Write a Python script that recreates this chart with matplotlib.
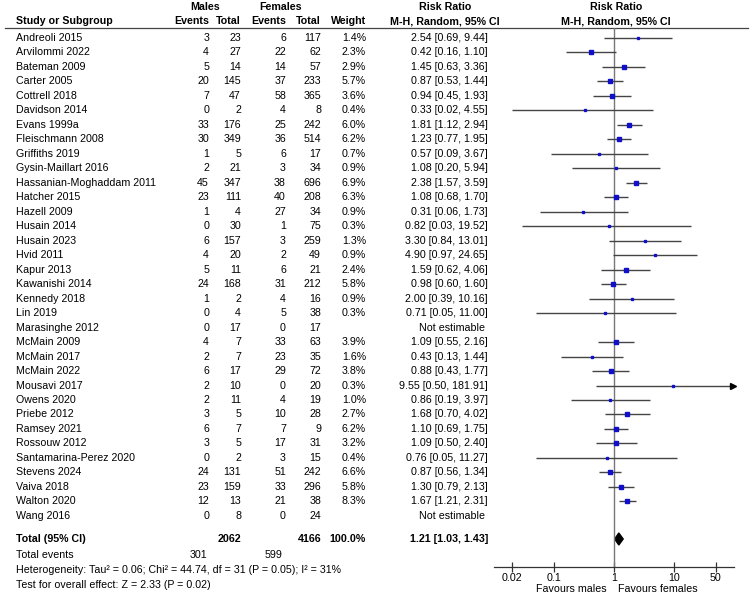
import matplotlib.pyplot as plt
import numpy as np
from matplotlib.patches import Polygon

plt.rcParams['font.family'] = ['Liberation Sans', 'DejaVu Sans']
plt.rcParams['font.size'] = 7.7

# study data
studies = ['Andreoli 2015', 'Arvilommi 2022', 'Bateman 2009', 'Carter 2005', 'Cottrell 2018',
           'Davidson 2014', 'Evans 1999a', 'Fleischmann 2008', 'Griffiths 2019',
           'Gysin-Maillart 2016', 'Hassanian-Moghaddam 2011', 'Hatcher 2015', 'Hazell 2009',
           'Husain 2014', 'Husain 2023', 'Hvid 2011', 'Kapur 2013', 'Kawanishi 2014',
           'Kennedy 2018', 'Lin 2019', 'Marasinghe 2012', 'McMain 2009', 'McMain 2017',
           'McMain 2022', 'Mousavi 2017', 'Owens 2020', 'Priebe 2012', 'Ramsey 2021',
           'Rossouw 2012', 'Santamarina-Perez 2020', 'Stevens 2024', 'Vaiva 2018',
           'Walton 2020', 'Wang 2016']
male_events = [3, 4, 5, 20, 7, 0, 33, 30, 1, 2, 45, 23, 1, 0, 6, 4, 5, 24, 1, 0, 0, 4, 2, 6,
               2, 2, 3, 6, 3, 0, 24, 23, 12, 0]
male_total = [23, 27, 14, 145, 47, 2, 176, 349, 5, 21, 347, 111, 4, 30, 157, 20, 11, 168, 2, 4,
              17, 7, 7, 17, 10, 11, 5, 7, 5, 2, 131, 159, 13, 8]
female_events = [6, 22, 14, 37, 58, 4, 25, 36, 6, 3, 38, 40, 27, 1, 3, 2, 6, 31, 4, 5, 0, 33,
                 23, 29, 0, 4, 10, 7, 17, 3, 51, 33, 21, 0]
female_total = [117, 62, 57, 233, 365, 8, 242, 514, 17, 34, 696, 208, 34, 75, 259, 49, 21, 212,
                16, 38, 17, 63, 35, 72, 20, 19, 28, 9, 31, 15, 242, 296, 38, 24]
weight = [1.4, 2.3, 2.9, 5.7, 3.6, 0.4, 6.0, 6.2, 0.7, 0.9, 6.9, 6.3, 0.9, 0.3, 1.3, 0.9, 2.4,
          5.8, 0.9, 0.3, np.nan, 3.9, 1.6, 3.8, 0.3, 1.0, 2.7, 6.2, 3.2, 0.4, 6.6, 5.8, 8.3,
          np.nan]
rr = [2.54, 0.42, 1.45, 0.87, 0.94, 0.33, 1.81, 1.23, 0.57, 1.08, 2.38, 1.08, 0.31, 0.82, 3.30,
      4.90, 1.59, 0.98, 2.00, 0.71, np.nan, 1.09, 0.43, 0.88, 9.55, 0.86, 1.68, 1.10, 1.09,
      0.76, 0.87, 1.30, 1.67, np.nan]
ci_low = [0.69, 0.16, 0.63, 0.53, 0.45, 0.02, 1.12, 0.77, 0.09, 0.20, 1.57, 0.68, 0.06, 0.03,
          0.84, 0.97, 0.62, 0.60, 0.39, 0.05, np.nan, 0.55, 0.13, 0.43, 0.50, 0.19, 0.70, 0.69,
          0.50, 0.05, 0.56, 0.79, 1.21, np.nan]
ci_high = [9.44, 1.10, 3.36, 1.44, 1.93, 4.55, 2.94, 1.95, 3.67, 5.94, 3.59, 1.70, 1.73, 19.52,
           13.01, 24.65, 4.06, 1.60, 10.16, 11.00, np.nan, 2.16, 1.44, 1.77, 181.91, 3.97, 4.02,
           1.75, 2.40, 11.27, 1.34, 2.13, 2.31, np.nan]

total_rr, total_low, total_high = 1.21, 1.03, 1.43
total_n = [2062, 4166]
total_events = [301, 599]
ticks = [0.02, 0.1, 1, 10, 50]

W, H = 750, 597
fig = plt.figure(figsize=(W / 100, H / 100), dpi=100)

# text layer in pixel coordinates
tax = fig.add_axes([0, 0, 1, 1])
tax.set_xlim(0, W)
tax.set_ylim(H, 0)
tax.axis('off')

row0, step = 38, 14.48
ys = [row0 + step * i for i in range(len(studies))]
y_total = 539
col_me, col_mt, col_fe, col_ft, col_w, col_ci = 209, 241, 286, 321, 366, 488

# headers
hb = dict(fontweight='bold', va='center')
tax.text(205, 7, 'Males', ha='center', **hb)
tax.text(281, 7, 'Females', ha='center', **hb)
tax.text(445, 7, 'Risk Ratio', ha='center', **hb)
tax.text(616, 7, 'Risk Ratio', ha='center', **hb)
tax.text(16, 21, 'Study or Subgroup', ha='left', **hb)
for x, s in zip([col_me, col_mt, col_fe, col_ft, col_w], ['Events', 'Total', 'Events', 'Total', 'Weight']):
    tax.text(x, 21, s, ha='right', **hb)
tax.text(445, 21, 'M-H, Random, 95% CI', ha='center', **hb)
tax.text(616, 21, 'M-H, Random, 95% CI', ha='center', **hb)
tax.plot([5, 748], [28, 28], color='#444444', lw=0.9)

# study rows
for i, y in enumerate(ys):
    tax.text(16, y, studies[i], ha='left', va='center')
    tax.text(col_me, y, str(male_events[i]), ha='right', va='center')
    tax.text(col_mt, y, str(male_total[i]), ha='right', va='center')
    tax.text(col_fe, y, str(female_events[i]), ha='right', va='center')
    tax.text(col_ft, y, str(female_total[i]), ha='right', va='center')
    if np.isnan(rr[i]):
        tax.text(col_ci - 3, y, 'Not estimable', ha='right', va='center')
    else:
        tax.text(col_w, y, f'{weight[i]:.1f}%', ha='right', va='center')
        tax.text(col_ci, y, f'{rr[i]:.2f} [{ci_low[i]:.2f}, {ci_high[i]:.2f}]', ha='right', va='center')

# totals
tb = dict(fontweight='bold', va='center')
tax.text(16, y_total, 'Total (95% CI)', ha='left', **tb)
tax.text(col_mt, y_total, str(total_n[0]), ha='right', **tb)
tax.text(col_ft, y_total, str(total_n[1]), ha='right', **tb)
tax.text(col_w, y_total, '100.0%', ha='right', **tb)
tax.text(col_ci, y_total, f'{total_rr:.2f} [{total_low:.2f}, {total_high:.2f}]', ha='right', **tb)
tax.text(16, 555, 'Total events', ha='left', va='center')
tax.text(col_me - 2, 555, str(total_events[0]), ha='right', va='center')
tax.text(col_fe - 4, 555, str(total_events[1]), ha='right', va='center')
tax.text(16, 570, 'Heterogeneity: Tau² = 0.06; Chi² = 44.74, df = 31 (P = 0.05); I² = 31%',
         ha='left', va='center')
tax.text(16, 585, 'Test for overall effect: Z = 2.33 (P = 0.02)', ha='left', va='center')
tax.text(607, 589, 'Favours males', ha='right', va='center')
tax.text(618, 589, 'Favours females', ha='left', va='center')

# forest plot axes
x_left, x_right, y_top, y_axis = 493.7, 734, 28, 567
fax = fig.add_axes([x_left / W, (H - y_axis) / H, (x_right - x_left) / W, (y_axis - y_top) / H])
fax.patch.set_alpha(0)
fax.set_xscale('log')
fax.set_xlim(0.01, 100)
fax.set_ylim(y_axis, y_top)
for side in ['top', 'left', 'right']:
    fax.spines[side].set_visible(False)
fax.spines['bottom'].set_color('#333333')
fax.spines['bottom'].set_linewidth(0.9)
fax.set_yticks([])
fax.set_xticks(ticks)
fax.set_xticklabels([f'{t:g}' for t in ticks])
fax.minorticks_off()
fax.tick_params(axis='x', direction='inout', length=7, width=0.9, color='#333333', pad=1,
                labelsize=7.7)
fax.axvline(1, color='#777777', lw=1)

for i, y in enumerate(ys):
    if np.isnan(rr[i]):
        continue
    hi = min(ci_high[i], 100)
    fax.plot([ci_low[i], hi], [y, y], color='#444444', lw=1, solid_capstyle='butt')
    if ci_high[i] > 100:
        fax.plot(95, y, marker='>', ms=4, color='black', clip_on=False)
    fax.plot(rr[i], y, marker='s', ms=2 + 0.08 * weight[i], color='#1010c8', mec='#1010c8')

diamond = Polygon([(total_low, y_total), (total_rr, y_total - 6), (total_high, y_total),
                   (total_rr, y_total + 6)], closed=True, color='black')
fax.add_patch(diamond)

plt.savefig('out.png', dpi=100)
